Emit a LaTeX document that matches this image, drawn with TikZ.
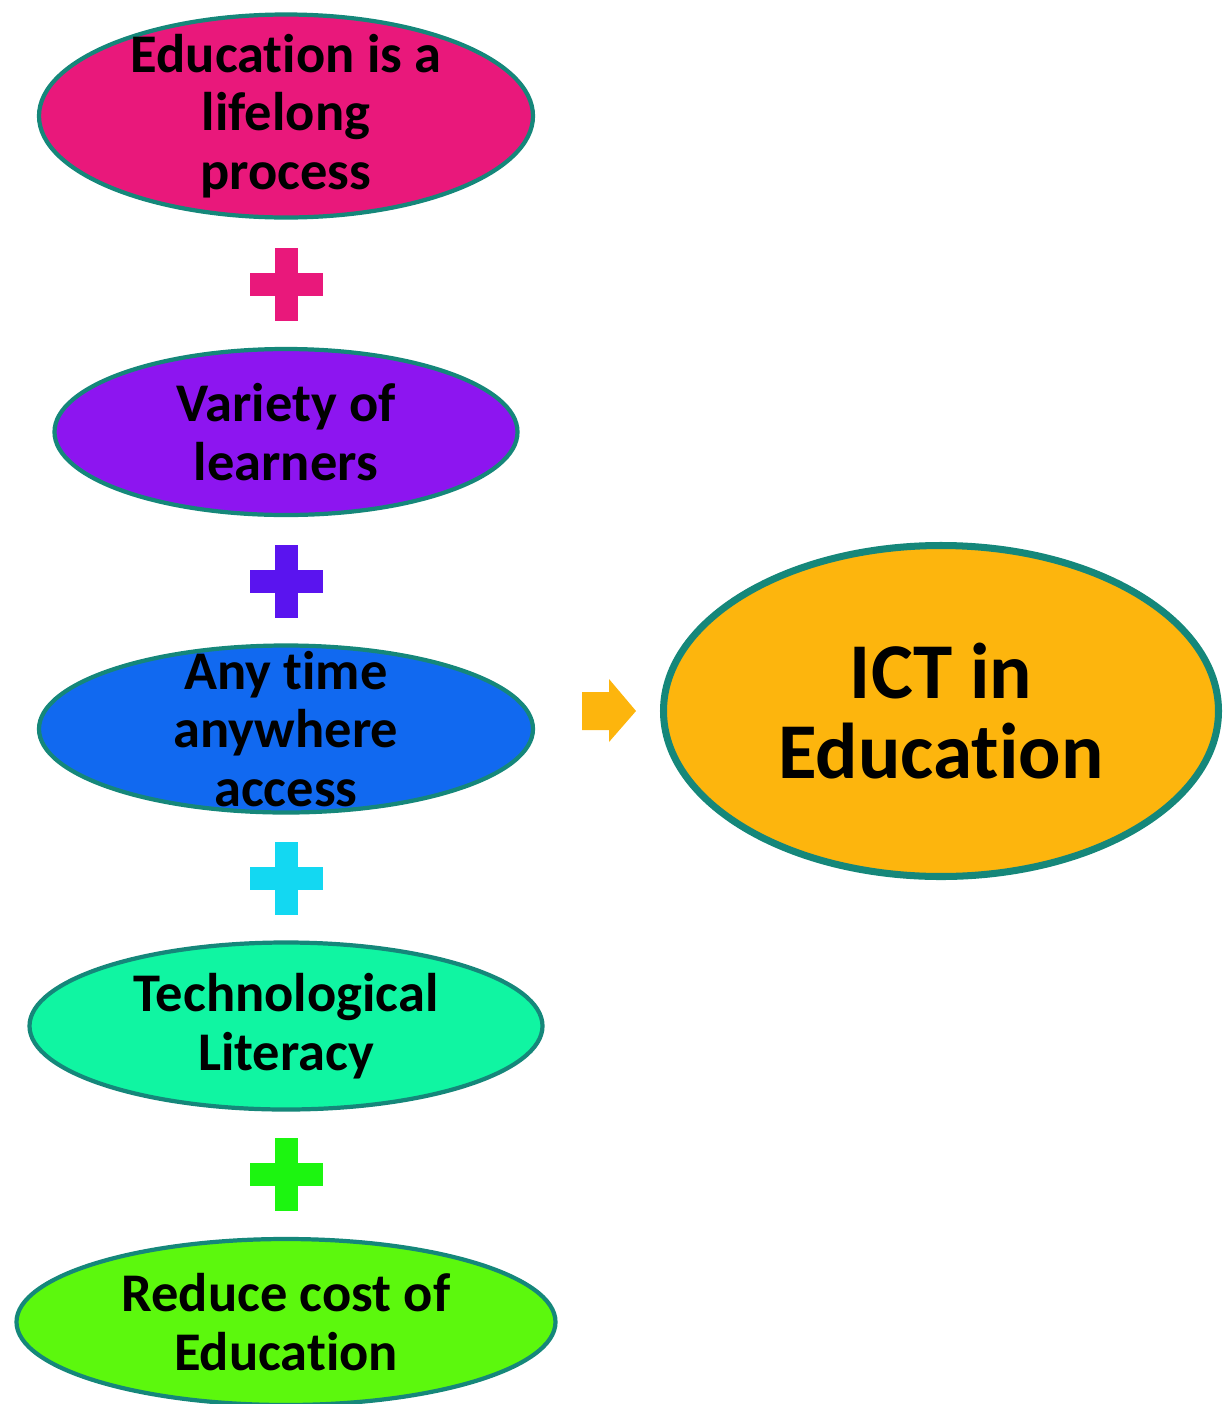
\documentclass[tikz,border=0pt]{standalone}
\usepackage{fontspec}
\setmainfont[Ligatures=NoCommon]{Carlito}
\usepackage{xcolor}
\usetikzlibrary{shapes.geometric, positioning, calc}

\definecolor{rimteal}{HTML}{15877A}
\definecolor{lifepink}{HTML}{E9187B}
\definecolor{learnpurple}{HTML}{8D15F0}
\definecolor{accessblue}{HTML}{1169F0}
\definecolor{techmint}{HTML}{10F5A2}
\definecolor{costgreen}{HTML}{5CF80D}
\definecolor{ictorange}{HTML}{FDB50D}
\definecolor{plusviolet}{HTML}{5A14EF}
\definecolor{pluscyan}{HTML}{13D8F2}
\definecolor{plusgreen}{HTML}{1CF510}

\begin{document}
\begin{tikzpicture}[
  idea/.style={ellipse, draw=rimteal, line width=2.4pt, inner sep=0pt},
  ideatext/.style={align=center, inner sep=0pt, font=\fontsize{31}{33.3}\selectfont\bfseries},
  bigidea/.style={ellipse, draw=rimteal, line width=4pt, inner sep=0pt},
  bigtext/.style={align=center, inner sep=0pt, font=\fontsize{45}{46}\selectfont\bfseries}
]
\useasboundingbox (0,0) rectangle (24.58,-28.08);

\node[idea, fill=lifepink, minimum width=9.88cm, minimum height=4.06cm] (life) at (5.72,-2.32) {};
\node[idea, fill=learnpurple, minimum width=9.26cm, minimum height=3.32cm] (learners) at (5.72,-8.64) {};
\node[idea, fill=accessblue, minimum width=9.88cm, minimum height=3.34cm] (access) at (5.72,-14.58) {};
\node[idea, fill=techmint, minimum width=10.26cm, minimum height=3.34cm] (literacy) at (5.72,-20.52) {};
\node[idea, fill=costgreen, minimum width=10.78cm, minimum height=3.32cm] (cost) at (5.72,-26.44) {};
\node[bigidea, fill=ictorange, minimum width=11.1cm, minimum height=6.62cm] (ict) at (18.82,-14.22) {};

\node[ideatext] (life-text) at (life) {Education is a\\lifelong\\process};
\node[ideatext] (learners-text) at (learners) {Variety of\\learners};
\node[ideatext] (access-text) at (access) {Any time\\anywhere\\access};
\node[ideatext] (literacy-text) at (literacy) {Technological\\Literacy};
\node[ideatext] (cost-text) at (cost) {Reduce cost of\\Education};
\node[bigtext] (ict-text) at (ict) {ICT in\\Education};

% plus signs between the ellipses
\foreach \py/\pc in {-5.68/lifepink, -11.62/plusviolet, -17.56/pluscyan, -23.48/plusgreen} {
  \fill[\pc] (5.00,\py-0.23) rectangle (6.46,\py+0.23);
  \fill[\pc] (5.49,\py-0.73) rectangle (5.95,\py+0.73);
}

% block arrow
\fill[ictorange] (11.64,-13.84) -- (12.18,-13.84) -- (12.18,-13.58) -- (12.72,-14.22)
  -- (12.18,-14.84) -- (12.18,-14.60) -- (11.64,-14.60) -- cycle;
\end{tikzpicture}
\end{document}
